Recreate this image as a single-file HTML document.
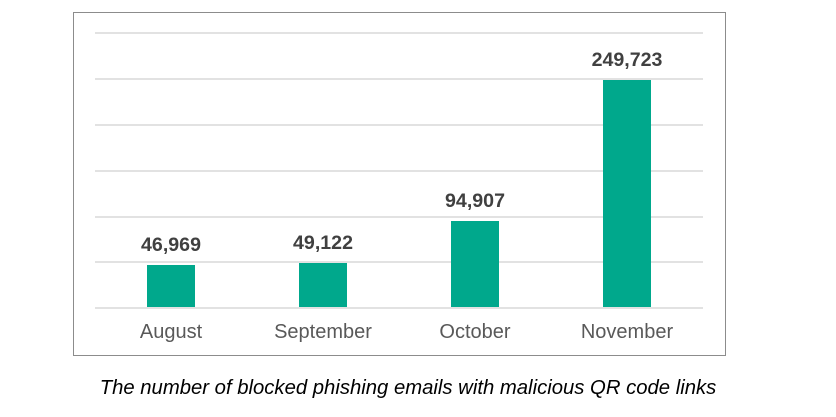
<!DOCTYPE html><html><head><style>body{margin:0;background:#fff;width:836px;height:412px;overflow:hidden}</style></head><body>
<svg width="836" height="412" xmlns="http://www.w3.org/2000/svg" font-family="Liberation Sans, sans-serif">
<rect x="73.5" y="12.5" width="652" height="343" fill="#fff" stroke="#8c8c8c" stroke-width="1"/>
<g stroke="#d9d9d9" stroke-width="1.5">
<line x1="95" x2="703" y1="33" y2="33"/><line x1="95" x2="703" y1="79" y2="79"/><line x1="95" x2="703" y1="125" y2="125"/><line x1="95" x2="703" y1="171" y2="171"/><line x1="95" x2="703" y1="217" y2="217"/><line x1="95" x2="703" y1="262" y2="262"/><line x1="95" x2="703" y1="308" y2="308"/>
</g>
<g fill="#00a88c">
<rect x="147" y="265" width="48" height="42"/><rect x="299" y="263" width="48" height="44"/><rect x="451" y="221" width="48" height="86"/><rect x="603" y="80" width="48" height="227"/>
</g>
<g fill="#404040" font-weight="bold" font-size="19.6" text-anchor="middle">
<text x="171" y="251">46,969</text><text x="323" y="249">49,122</text><text x="475" y="207">94,907</text><text x="627" y="66">249,723</text>
</g>
<g fill="#595959" font-size="20" text-anchor="middle">
<text x="171" y="338">August</text><text x="323" y="338">September</text><text x="475" y="338">October</text><text x="627" y="338">November</text>
</g>
<text x="408" y="394" text-anchor="middle" font-size="20.3" font-style="italic" fill="#000">The number of blocked phishing emails with malicious QR code links</text>
</svg></body></html>
